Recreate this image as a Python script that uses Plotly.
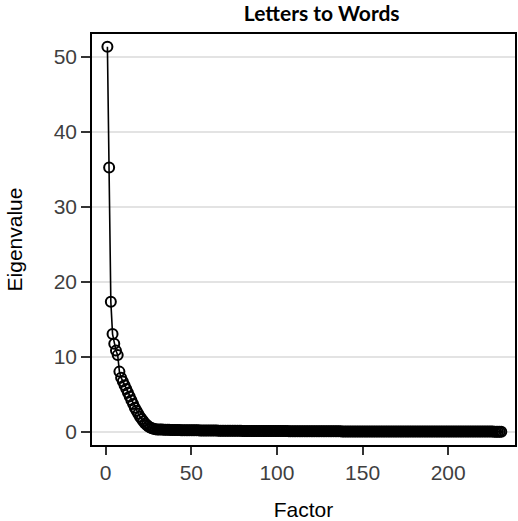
import plotly.graph_objects as go

title_text = "Letters to Words"
x_label = "Factor"
y_label = "Eigenvalue"

head_values = [51.3, 35.2, 17.3, 13.0, 11.7, 10.8, 10.2, 8.0, 7.2, 6.7,
               6.2, 5.7, 5.2, 4.7, 4.2, 3.7, 3.2, 2.8, 2.4, 2.0,
               1.7, 1.4, 1.1, 0.9, 0.7, 0.55, 0.45, 0.38, 0.33, 0.30]
tail_values = [
    0.29, 0.28, 0.27, 0.26, 0.25, 0.25, 0.24, 0.23, 0.23, 0.22,
    0.22, 0.21, 0.21, 0.20, 0.20, 0.19, 0.19, 0.19, 0.18, 0.18,
    0.18, 0.17, 0.17, 0.17, 0.16, 0.16, 0.16, 0.15, 0.15, 0.15,
    0.15, 0.14, 0.14, 0.14, 0.14, 0.13, 0.13, 0.13, 0.13, 0.12,
    0.12, 0.12, 0.12, 0.12, 0.11, 0.11, 0.11, 0.11, 0.11, 0.10,
    0.10, 0.10, 0.10, 0.10, 0.10, 0.09, 0.09, 0.09, 0.09, 0.09,
    0.09, 0.08, 0.08, 0.08, 0.08, 0.08, 0.08, 0.08, 0.07, 0.07,
    0.07, 0.07, 0.07, 0.07, 0.07, 0.07, 0.06, 0.06, 0.06, 0.06,
    0.06, 0.06, 0.06, 0.06, 0.06, 0.05, 0.05, 0.05, 0.05, 0.05,
    0.05, 0.05, 0.05, 0.05, 0.05, 0.04, 0.04, 0.04, 0.04, 0.04,
    0.04, 0.04, 0.04, 0.04, 0.04, 0.04, 0.04, 0.03, 0.03, 0.03,
    0.03, 0.03, 0.03, 0.03, 0.03, 0.03, 0.03, 0.03, 0.03, 0.03,
    0.03, 0.03, 0.03, 0.03, 0.03, 0.03, 0.02, 0.02, 0.02, 0.02,
    0.02, 0.02, 0.02, 0.02, 0.02, 0.02, 0.02, 0.02, 0.02, 0.02,
    0.02, 0.02, 0.02, 0.02, 0.02, 0.02, 0.02, 0.02, 0.02, 0.02,
    0.02, 0.02, 0.02, 0.02, 0.02, 0.01, 0.01, 0.01, 0.01, 0.01,
    0.01, 0.01, 0.01, 0.01, 0.01, 0.01, 0.01, 0.01, 0.01, 0.01,
    0.01, 0.01, 0.01, 0.01, 0.01, 0.01, 0.01, 0.01, 0.01, 0.01,
    0.01, 0.01, 0.01, 0.01, 0.01, 0.01, 0.01, 0.01, 0.01, 0.01,
    0.01, 0.01, 0.01, 0.01, 0.01, 0.01, 0.00, 0.00, 0.00, 0.00,
    0.00,
]
eigenvalues = head_values + tail_values
factors = list(range(1, len(eigenvalues) + 1))

x_ticks = [0, 50, 100, 150, 200]
y_ticks = [0, 10, 20, 30, 40, 50]

fig = go.Figure()
fig.add_trace(go.Scatter(
    x=factors, y=eigenvalues, mode="lines+markers",
    line=dict(color="black", width=1.6),
    marker=dict(symbol="circle-open", size=10, color="black",
                line=dict(width=2, color="black")),
    showlegend=False,
))

axis_font = dict(family="Liberation Sans, Arial, sans-serif", size=21, color="#3f3f3f")
fig.update_layout(
    width=518, height=521,
    margin=dict(l=92, r=3, t=34, b=76),
    paper_bgcolor="white", plot_bgcolor="white",
    title=dict(text="<b>" + title_text + "</b>", x=0.543, xref="paper",
               xanchor="center", y=0.973, yref="container", yanchor="middle",
               font=dict(family="Lato, Open Sans, sans-serif", size=21, color="black")),
    xaxis=dict(
        range=[-8, 239], tickvals=x_ticks, ticks="outside", ticklen=8,
        tickwidth=1.5, tickcolor="#333333", tickfont=axis_font,
        showgrid=False, zeroline=False, showline=True, linecolor="black",
        linewidth=1.5, mirror=True, automargin=False,
        title=dict(text=x_label, font=dict(family="Liberation Sans, Arial, sans-serif", size=21, color="black"), standoff=31),
    ),
    yaxis=dict(
        range=[-1.78, 53.0], tickvals=y_ticks, ticks="outside", ticklen=9,
        tickwidth=1.5, tickcolor="#333333", tickfont=axis_font,
        showgrid=True, gridcolor="#e3e3e3", gridwidth=1.5,
        zeroline=False, showline=True, linecolor="black", linewidth=1.5,
        mirror=True, automargin=False,
        title=dict(text=y_label, font=dict(family="Liberation Sans, Arial, sans-serif", size=21, color="black"), standoff=25),
    ),
)

fig.write_html("out.html")
